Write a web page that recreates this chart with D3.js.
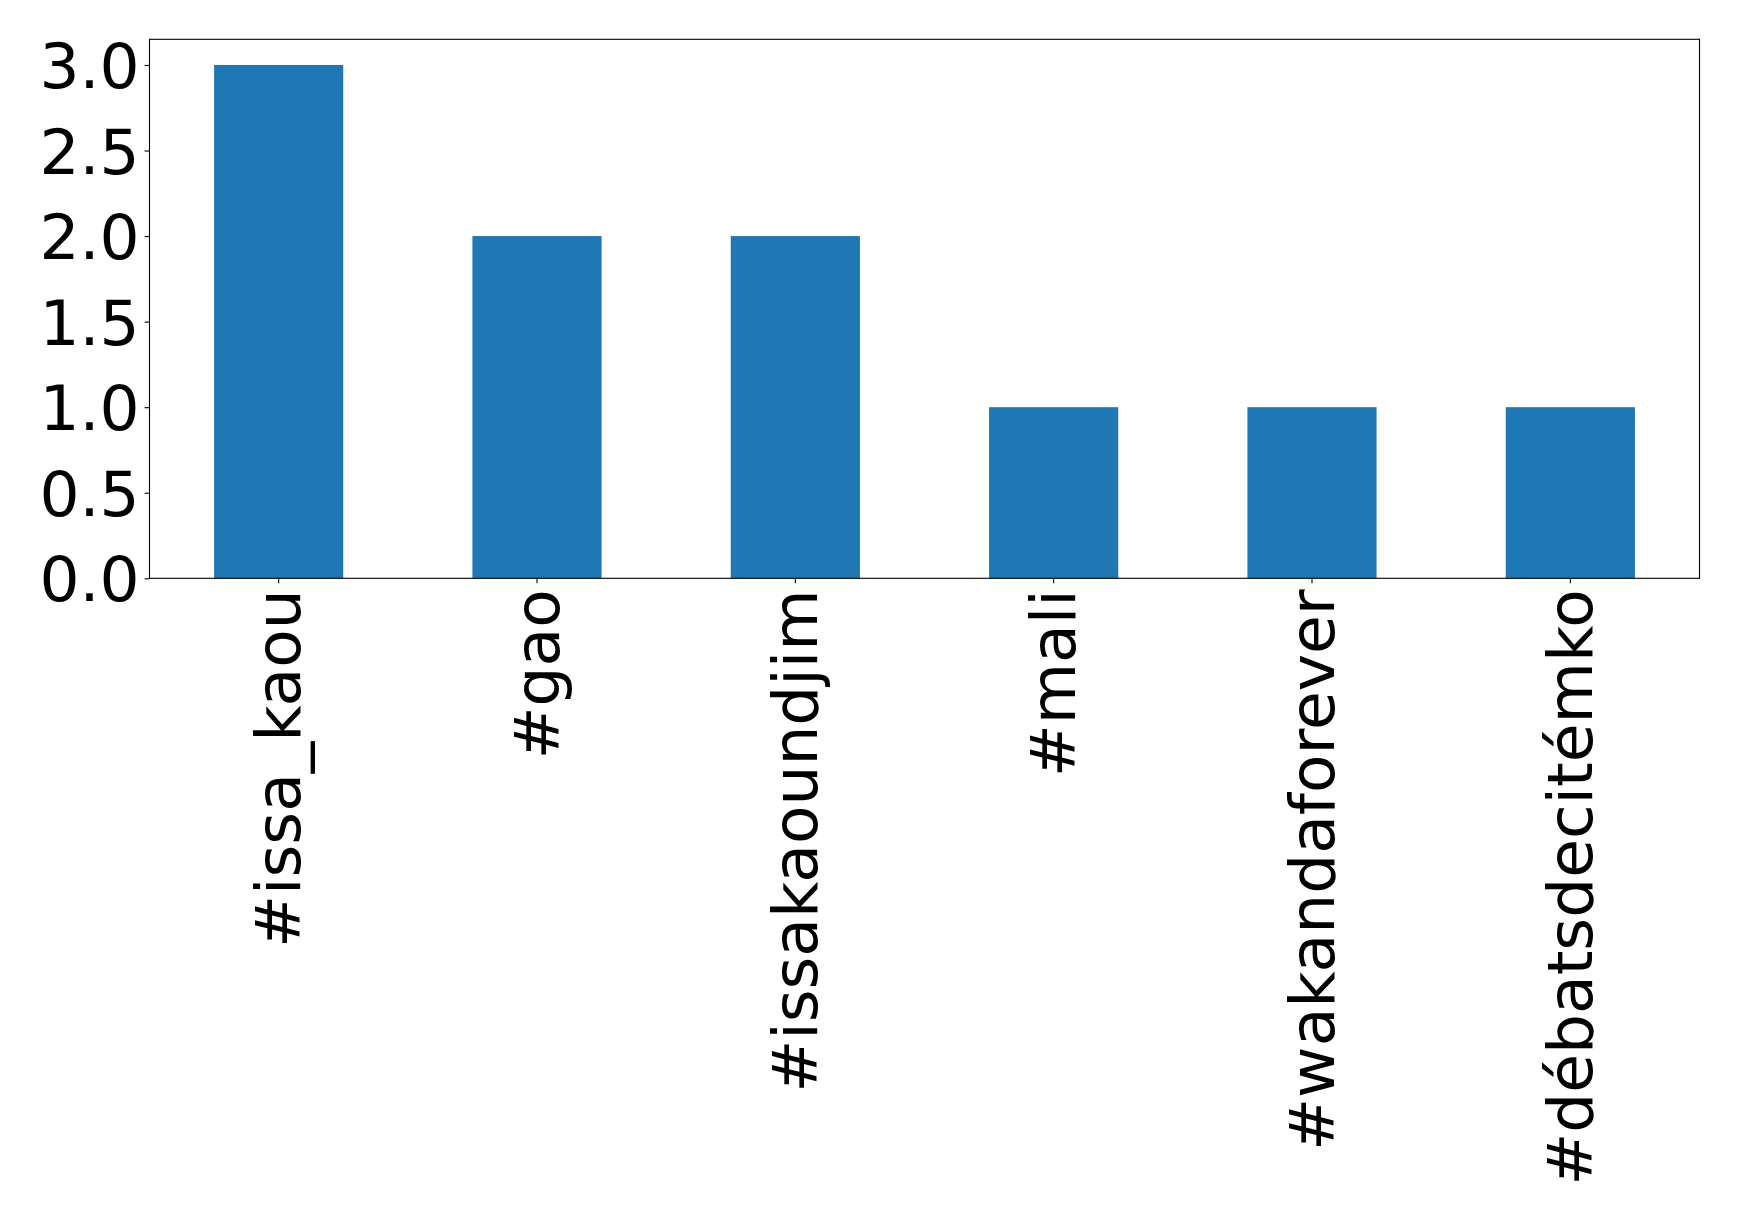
<!DOCTYPE html>
<html><head><meta charset="utf-8">
<script src="https://cdn.jsdelivr.net/npm/d3@7"></script>
<style>body{margin:0;background:#fff}svg{display:block}text{font-family:"DejaVu Sans",sans-serif}</style>
</head><body>
<script>
const categories = ["#issa_kaou","#gao","#issakaoundjim","#mali","#wakandaforever","#débatsdecitémko"];
const values = [3,2,2,1,1,1];
const yTicks = [0,0.5,1.0,1.5,2.0,2.5,3.0];

const W=1739,H=1219;
const L=149.5,R=1699.5,T=39.3,B=578.3;
const FS=63;
const svg=d3.select("body").append("svg").attr("width",W).attr("height",H);
const x=d3.scaleBand().domain(categories).range([L,R]).paddingInner(0.5).paddingOuter(0.25);
const y=d3.scaleLinear().domain([0,3.15]).range([B,T]);

svg.selectAll("rect.bar").data(values).enter().append("rect")
 .attr("x",(d,i)=>x(categories[i])).attr("width",x.bandwidth())
 .attr("y",d=>y(d)).attr("height",d=>y(0)-y(d)).attr("fill","#1f77b4");

const ya=svg.append("g").attr("transform",`translate(${L},0)`)
 .call(d3.axisLeft(y).tickValues(yTicks).tickFormat(d3.format(".1f")).tickSize(4.9).tickPadding(4.9));
ya.select(".domain").remove();
ya.selectAll("text").attr("font-size",FS).attr("fill","#000").attr("dy","0.36em");
ya.selectAll("line").attr("stroke","#000").attr("stroke-width",1.1);

const xa=svg.append("g").attr("transform",`translate(0,${B})`)
 .call(d3.axisBottom(x).tickSize(4.9).tickPadding(0));
xa.select(".domain").remove();
xa.selectAll("line").attr("stroke","#000").attr("stroke-width",1.1);
xa.selectAll("text").attr("font-size",FS).attr("fill","#000")
 .attr("text-anchor","end").attr("dy",null).attr("y",null)
 .attr("transform","translate(0,11) rotate(-90)").attr("dominant-baseline","central");

svg.append("rect").attr("x",L).attr("y",T).attr("width",R-L).attr("height",B-T)
 .attr("fill","none").attr("stroke","#000").attr("stroke-width",1.1);
</script>
</body></html>
